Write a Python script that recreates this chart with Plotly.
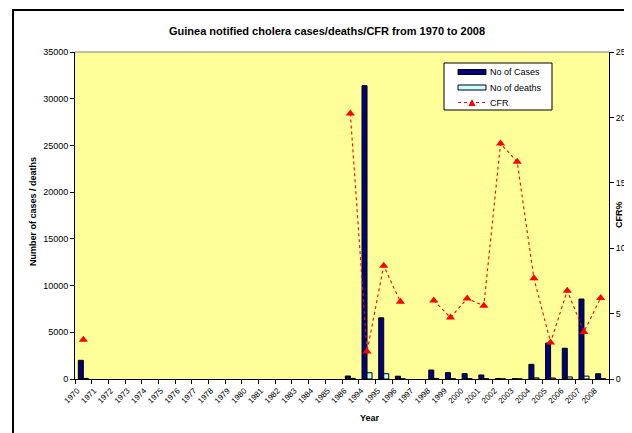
import plotly.graph_objects as go

years = ["1970","1971","1972","1973","1974","1975","1976","1977","1978","1979","1980",
         "1981","1982","1983","1984","1985","1986","1994","1995","1996","1997","1998",
         "1999","2000","2001","2002","2003","2004","2005","2006","2007","2008"]
cases = [2000,None,None,None,None,None,None,None,None,None,None,None,None,None,None,None,
         320,31400,6550,300,None,960,680,570,430,60,40,1570,3850,3290,8560,560]
deaths = [60,None,None,None,None,None,None,None,None,None,None,None,None,None,None,None,
          65,670,565,18,None,58,32,35,24,11,7,121,108,222,308,35]
cfr = [3.0,None,None,None,None,None,None,None,None,None,None,None,None,None,None,None,
       20.3,2.1,8.65,5.9,None,6.0,4.7,6.15,5.6,18.0,16.6,7.7,2.8,6.75,3.6,6.2]
series_names = ["No of Cases", "No of deaths", "CFR"]

FONT = "Liberation Sans, Arial, sans-serif"
CASES_COLOR, DEATHS_COLOR, CFR_COLOR = "#000080", "#CCFFFF", "red"
OFF = 8  # page body margin offset
W, H = 632 - OFF, 433 - OFF
L, R, T, B = 75 - OFF, 609 - OFF, 52 - OFF, 379 - OFF
PW, PH = R - L, B - T

def px(x):  # reference page x -> paper
    return (x - OFF - L) / PW

def py(y):  # reference page y -> paper
    return (B - (y - OFF)) / PH

fig = go.Figure()
fig.add_trace(go.Bar(x=years, y=cases, name=series_names[0],
                     marker=dict(color=CASES_COLOR, line=dict(color="black", width=1))))
fig.add_trace(go.Bar(x=years, y=deaths, name=series_names[1],
                     marker=dict(color=DEATHS_COLOR, line=dict(color="black", width=1))))
fig.add_trace(go.Scatter(x=years, y=cfr, name=series_names[2], yaxis="y2", mode="lines+markers",
                         connectgaps=False,
                         line=dict(color=CFR_COLOR, width=1.1, dash="dot"),
                         marker=dict(symbol="triangle-up", color=CFR_COLOR, size=8)))

fig.update_layout(
    width=W, height=H,
    margin=dict(l=L, r=W - R, t=T, b=H - B),
    paper_bgcolor="white", plot_bgcolor="#FFFF99",
    font=dict(family=FONT, size=9, color="black"),
    title=dict(text="<b>Guinea notified cholera cases/deaths/CFR from 1970 to 2008</b>",
               x=px(327), xanchor="center", xref="paper", y=1 - (31 - OFF) / H, yanchor="middle",
               font=dict(size=11, family=FONT)),
    barmode="group", bargap=0.4, bargroupgap=0,
    showlegend=False,
    xaxis=dict(type="category", range=[-0.5, len(years) - 0.5],
               tickangle=-45, tickfont=dict(size=8), automargin=False,
               ticklabelshift=-6, ticklabelstandoff=3,
               showline=True, linecolor="black", linewidth=1,
               ticks="outside", ticklen=4, tickcolor="black", tickson="boundaries",
               showgrid=False, zeroline=False),
    yaxis=dict(range=[0, 35000], dtick=5000, tickformat="d", showgrid=False, zeroline=False,
               automargin=False, showline=True, linecolor="black", linewidth=1,
               ticks="outside", ticklen=4, tickcolor="black"),
    yaxis2=dict(range=[0, 25], dtick=5, overlaying="y", side="right", showgrid=False,
                automargin=False, zeroline=False, showline=True, linecolor="black", linewidth=1,
                ticks="outside", ticklen=4, tickcolor="black"),
)

def ann(text, x, y, angle=0, xa="center", size=9):
    fig.add_annotation(text=text, xref="paper", yref="paper", x=px(x), y=py(y),
                       xanchor=xa, yanchor="middle", textangle=angle, showarrow=False,
                       font=dict(size=size, family=FONT))

ann("<b>Year</b>", 370, 418)
ann("<b>Number of cases / deaths</b>", 33, 212, angle=-90)
ann("<b>CFR%</b>", 619, 215, angle=-90)

# custom compact legend
fig.add_shape(type="rect", xref="paper", yref="paper", x0=px(444), x1=px(552),
              y0=py(110), y1=py(63), fillcolor="white", line=dict(color="black", width=1))
fig.add_shape(type="rect", xref="paper", yref="paper", x0=px(458), x1=px(486),
              y0=py(74.5), y1=py(69.5), fillcolor=CASES_COLOR, line=dict(color="black", width=1))
fig.add_shape(type="rect", xref="paper", yref="paper", x0=px(458), x1=px(486),
              y0=py(90), y1=py(85), fillcolor=DEATHS_COLOR, line=dict(color="black", width=1))
fig.add_shape(type="line", xref="paper", yref="paper", x0=px(458), x1=px(486),
              y0=py(102.5), y1=py(102.5), line=dict(color=CFR_COLOR, width=1.1, dash="dot"))
tx0, tx1, ty0, ty1 = px(468.5), px(475.5), py(106), py(99)
fig.add_shape(type="path", xref="paper", yref="paper",
              path=f"M {tx0} {ty0} L {tx1} {ty0} L {(tx0 + tx1) / 2} {ty1} Z",
              fillcolor=CFR_COLOR, line=dict(color=CFR_COLOR, width=0))
ann(series_names[0], 488, 72, xa="left")
ann(series_names[1], 488, 87.5, xa="left")
ann(series_names[2], 488, 103, xa="left")

# plot area top border (gray) and outer chart frame
fig.add_shape(type="line", xref="paper", yref="paper", x0=0, x1=1, y0=1, y1=1,
              line=dict(color="#808080", width=1))
fig.add_shape(type="rect", xref="paper", yref="paper",
              x0=px(13), x1=px(660), y0=py(460), y1=py(10),
              line=dict(color="black", width=2), layer="below")

fig.write_html("out.html")
